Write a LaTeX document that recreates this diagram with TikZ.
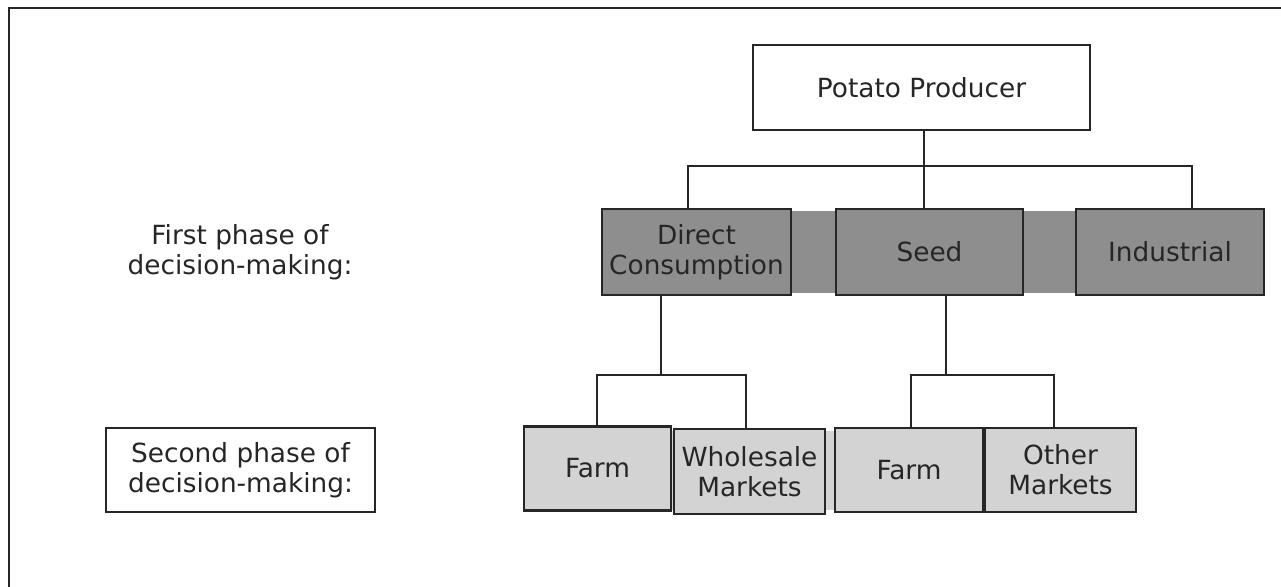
\documentclass[tikz,border=0pt]{standalone}
\usepackage{fontspec}
\setmainfont{DejaVu Sans}
\usepackage{xcolor}
\usepackage{tikz}
\usetikzlibrary{positioning}
\definecolor{ink}{RGB}{38,38,38}
\definecolor{darkfill}{RGB}{143,142,143}
\definecolor{lightfill}{RGB}{211,211,211}

\begin{document}
\begin{tikzpicture}[x=0.02cm, y=-0.02cm,
        box/.style={draw=ink, line width=1.4pt, align=center, inner sep=0pt, text=ink,
            font=\fontsize{15}{17}\selectfont},
        topbox/.style={box, fill=white, minimum width=6.74cm, minimum height=1.70cm},
        firstbox/.style={box, fill=darkfill, minimum height=1.72cm},
        secondbox/.style={box, fill=lightfill, minimum height=1.68cm},
        link/.style={draw=ink, line width=1.1pt},
        thinlink/.style={draw=ink, line width=0.7pt},
        phase/.style={align=center, text=ink, font=\fontsize{15}{17}\selectfont}
    ]
    \useasboundingbox (0,0) rectangle (1281,587);

    % 外框
    \draw[draw=ink, line width=1.7pt] (1281,8) -- (9,8) -- (9,587);

    % 底色条
    \fill[darkfill] (791,211) rectangle (1076,293);
    \fill[lightfill] (671,431) rectangle (985,510);

    % 顶点
    \node[topbox] (producer) at (921.5,87.5) {Potato Producer};
    \node[firstbox, minimum width=3.78cm] (direct) at (696.5,252) {Direct\\Consumption};
    \node[firstbox, minimum width=3.74cm] (seed) at (929.5,252) {Seed};
    \node[firstbox, minimum width=3.76cm] (industrial) at (1170,252) {Industrial};
    \node[secondbox, minimum width=2.94cm] (farma) at (597.5,468.5) {Farm};
    \node[secondbox, minimum width=3.02cm, minimum height=1.70cm] (wholesale) at (749.5,471.5) {Wholesale\\Markets};
    \node[secondbox, minimum width=2.96cm] (farmb) at (909,470) {Farm};
    \node[secondbox, minimum width=3.02cm] (other) at (1060.5,470) {Other\\Markets};

    % 左侧说明
    \node[phase] (first) at (240,252) {First phase of\\decision-making:};
    \node[box, fill=white, minimum width=5.38cm, minimum height=1.68cm] (second) at (240.5,470) {Second phase of\\decision-making:};

    % 分叉点
    \coordinate (ja) at (688,166);
    \coordinate (jb) at (924,166);
    \coordinate (jc) at (1192,166);
    \coordinate (ka) at (597,375);
    \coordinate (kb) at (661,375);
    \coordinate (kc) at (746,375);
    \coordinate (sa) at (911,375);
    \coordinate (sb) at (946,375);
    \coordinate (sc) at (1054,375);

    % 连线
    \draw[link] (producer.south -| jb) -- (seed.north -| jb);
    \draw[link] (direct.north -| ja) -- (ja) -- (jc) -- (industrial.north -| jc);
    \draw[thinlink] (direct.south -| kb) -- (kb);
    \draw[thinlink] (farma.north -| ka) -- (ka) -- (kc) -- (wholesale.north -| kc);
    \draw[thinlink] (seed.south -| sb) -- (sb);
    \draw[thinlink] (farmb.north -| sa) -- (sa) -- (sc) -- (other.north -| sc);

\end{tikzpicture}
\end{document}
